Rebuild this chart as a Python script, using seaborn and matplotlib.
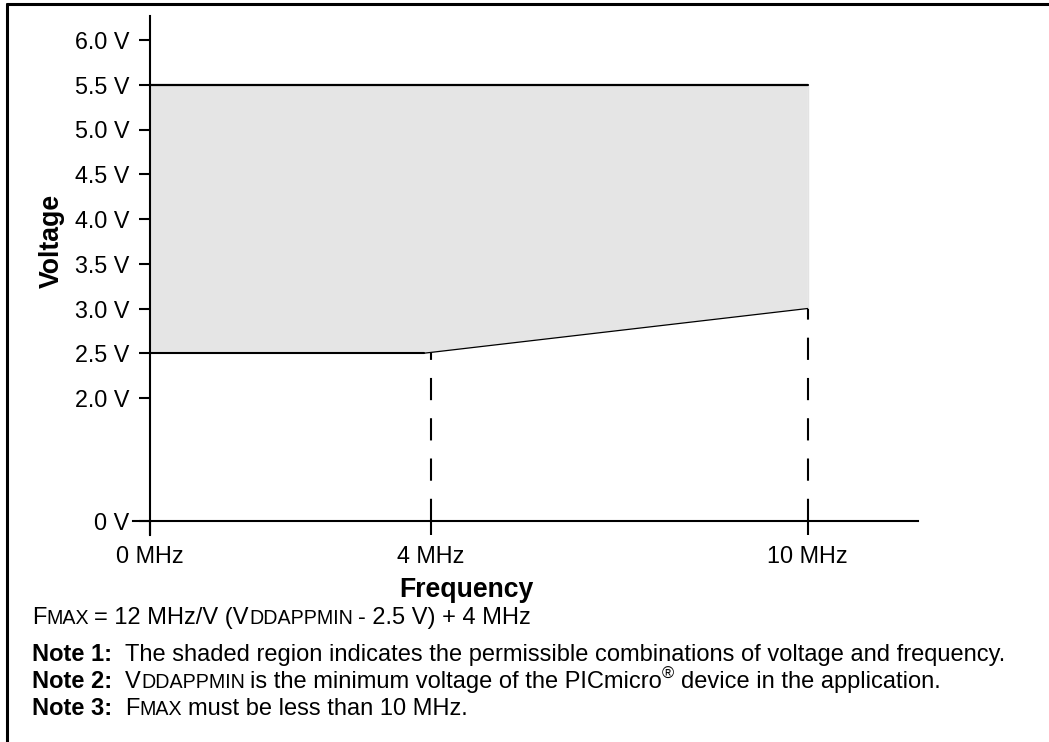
import numpy as np
import pandas as pd
import matplotlib
matplotlib.use('Agg')
import matplotlib.pyplot as plt
from matplotlib.lines import Line2D
import seaborn as sns

# --- data ---
freq_ticks = [0, 4, 10]
freq_labels = ['0 MHz', '4 MHz', '10 MHz']
volt_ticks = [0, 2.0, 2.5, 3.0, 3.5, 4.0, 4.5, 5.0, 5.5, 6.0]
volt_labels = ['0 V', '2.0 V', '2.5 V', '3.0 V', '3.5 V', '4.0 V', '4.5 V', '5.0 V', '5.5 V', '6.0 V']
crossing_ticks = [2.0, 6.0]

upper_freq = [0, 10]
upper_volt = [5.5, 5.5]
flat_freq = [0, 3.9]
flat_volt = [2.5, 2.5]
slope_freq = [3.9, 10]
slope_volt = [2.5, 3.0]
edge_freq = [10, 10]
edge_volt = [3.0, 5.5]
guide_freq = [4, 10]
guide_volt = [2.5, 3.0]

W, H, DPI = 1049, 742, 100

sns.set_style('white')
plt.rcParams['font.family'] = ['Liberation Sans', 'DejaVu Sans']
plt.rcParams['lines.scale_dashes'] = False
for key in ['text.color', 'axes.labelcolor', 'xtick.color', 'ytick.color']:
    plt.rcParams[key] = 'black'


def piecewise(xk, yk):
    # piecewise-linear axis mapping (the original drawing is not to scale)
    xk, yk = np.asarray(xk, float), np.asarray(yk, float)

    def build(a, b):
        s0 = (b[1] - b[0]) / (a[1] - a[0])
        s1 = (b[-1] - b[-2]) / (a[-1] - a[-2])

        def f(v):
            v = np.asarray(v, float)
            out = np.interp(v, a, b)
            out = np.where(v < a[0], b[0] + (v - a[0]) * s0, out)
            out = np.where(v > a[-1], b[-1] + (v - a[-1]) * s1, out)
            return out
        return f
    return build(xk, yk), build(yk, xk)


fx, ix = piecewise([0, 4, 10], [150, 430.7, 807.7])
fy, iy = piecewise([0, 2, 6], [0, 123, 481])

fig = plt.figure(figsize=(W / DPI, H / DPI), dpi=DPI)
ax = fig.add_axes([133 / W, 1 - 535 / H, (918 - 133) / W, (535 - 16) / H])
ax.set_xscale('function', functions=(fx, ix))
ax.set_yscale('function', functions=(fy, iy))
ax.set_xlim(float(ix(133)), float(ix(918)))
ax.set_ylim(float(iy(-14)), float(iy(505)))
ax.patch.set_alpha(0)

# shaded operating region
poly_f = upper_freq + slope_freq[::-1] + flat_freq[::-1]
poly_v = upper_volt + slope_volt[::-1] + flat_volt[::-1]
ax.fill(poly_f, poly_v, color='#e5e5e5', lw=0, zorder=1)

# dashed guides down to the axis
for f, v in zip(guide_freq, guide_volt):
    ax.plot([f, f], [0, v], color='black', lw=1.5, ls=(0, (16, 13)), zorder=2)

seg = pd.DataFrame({'freq': upper_freq, 'volt': upper_volt})
sns.lineplot(data=seg, x='freq', y='volt', color='black', lw=1.6, sort=False, ax=ax, zorder=3)
seg = pd.DataFrame({'freq': flat_freq, 'volt': flat_volt})
sns.lineplot(data=seg, x='freq', y='volt', color='black', lw=1.5, sort=False, ax=ax, zorder=3)
seg = pd.DataFrame({'freq': slope_freq, 'volt': slope_volt})
sns.lineplot(data=seg, x='freq', y='volt', color='black', lw=0.9, sort=False, ax=ax, zorder=3)
seg = pd.DataFrame({'freq': edge_freq, 'volt': edge_volt})
sns.lineplot(data=seg, x='freq', y='volt', color='#777777', lw=0.8, sort=False, ax=ax, zorder=3)

# axes through the origin
for s in ['top', 'right']:
    ax.spines[s].set_visible(False)
ax.spines['left'].set_position(('data', 0))
ax.spines['bottom'].set_position(('data', 0))
for s in ['left', 'bottom']:
    ax.spines[s].set_linewidth(1.5)
    ax.spines[s].set_color('black')
    ax.spines[s].set_zorder(4)

ax.set_xticks(freq_ticks)
ax.set_xticklabels(freq_labels)
ax.set_yticks(volt_ticks)
ax.set_yticklabels(volt_labels)
ax.set_yticks(crossing_ticks, minor=True)
ax.xaxis.set_minor_locator(matplotlib.ticker.NullLocator())
ax.tick_params(axis='y', which='major', direction='out', length=8, width=1.5,
               pad=7, labelsize=16.8, left=True)
ax.tick_params(axis='y', which='minor', direction='in', length=11, width=1.5, left=True)
ax.tick_params(axis='x', which='major', direction='out', length=10, width=1.5,
               pad=7, labelsize=16.8, bottom=True)
ax.set_xlabel('')
ax.set_ylabel('')

fig.text(52 / W, 1 - 241 / H, 'Voltage', rotation=90, fontsize=19.2, fontweight='bold',
         ha='center', va='center')
fig.text(466 / W, 1 - 590 / H, 'Frequency', fontsize=19.2, fontweight='bold',
         ha='center', va='center')

# notes under the chart, with small caps pieces
renderer = fig.canvas.get_renderer()
BASE = 17
SC = 0.83 * BASE


def draw_runs(x_px, y_px, runs):
    x = x_px
    for text, size, bold, rise in runs:
        gap = 0.0
        if text.endswith(' '):
            text = text.rstrip(' ')
            gap = 0.278 * size * DPI / 72
        lead = 0.0
        if text.startswith(' '):
            n = len(text) - len(text.lstrip(' '))
            text = text.lstrip(' ')
            lead = n * 0.278 * size * DPI / 72
        x += lead
        t = fig.text(x / W, 1 - (y_px - rise) / H, text, fontsize=size,
                     fontweight='bold' if bold else 'normal', ha='left', va='baseline')
        x += t.get_window_extent(renderer).width + gap


draw_runs(32, 624, [('F', BASE, False, 0), ('MAX ', SC, False, 0),
                    ('= 12 MHz/V (V', BASE, False, 0), ('DDAPPMIN ', SC, False, 0),
                    ('- 2.5 V) + 4 MHz', BASE, False, 0)])
draw_runs(32, 661, [('Note 1: ', BASE, True, 0),
                    (' The shaded region indicates the permissible combinations of voltage and frequency.',
                     BASE, False, 0)])
draw_runs(32, 688, [('Note 2: ', BASE, True, 0), (' V', BASE, False, 0),
                    ('DDAPPMIN ', SC, False, 0),
                    ('is the minimum voltage of the PICmicro', BASE, False, 0),
                    ('®', 0.7 * BASE, False, 9),
                    (' device in the application.', BASE, False, 0)])
draw_runs(32, 715, [('Note 3: ', BASE, True, 0), (' F', BASE, False, 0),
                    ('MAX ', SC, False, 0), ('must be less than 10 MHz.', BASE, False, 0)])

# frame lines of the datasheet figure box
fig.add_artist(Line2D([7 / W, 1], [1 - 4 / H, 1 - 4 / H], color='black', lw=2.2,
                      transform=fig.transFigure))
fig.add_artist(Line2D([7 / W, 7 / W], [0, 1 - 4 / H], color='black', lw=2.2,
                      transform=fig.transFigure))

fig.savefig('out.png', dpi=DPI)
